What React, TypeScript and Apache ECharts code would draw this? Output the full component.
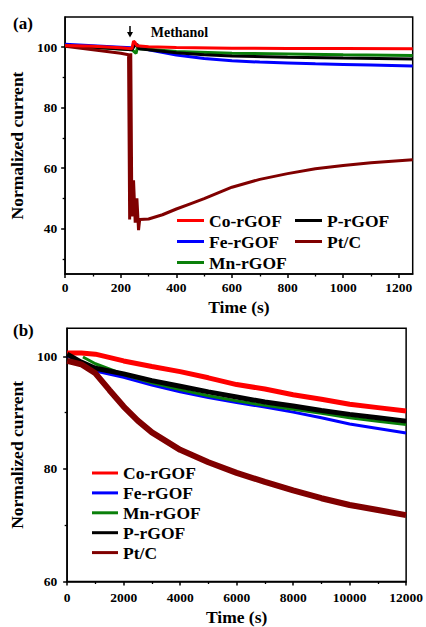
import React, { useEffect, useRef } from "react";
import * as echarts from "echarts";

const FONT = "Liberation Serif";

const seriesNames = ["Co-rGOF", "Fe-rGOF", "Mn-rGOF", "P-rGOF", "Pt/C"];
const seriesColors = ["#ff0000", "#0000ff", "#0a800a", "#000000", "#800000"];

// Panel (a): methanol tolerance, Time (s) vs normalized current
const aCo: [number, number][] = [[0,100.6],[100,100.3],[200,99.8],[240,99.5],[246,102],[252,101.5],[258,100.5],[300,100.2],[400,99.9],[600,99.7],[800,99.6],[1000,99.6],[1250,99.5]];
const aFe: [number, number][] = [[0,101],[100,100.5],[200,100],[240,99.8],[255,101],[262,100],[300,99.2],[400,97.4],[500,96.3],[600,95.5],[700,95.1],[800,94.8],[900,94.5],[1000,94.3],[1100,94.1],[1250,93.8]];
const aMn: [number, number][] = [[0,100.4],[100,100],[200,99.4],[240,99.2],[255,98],[262,100.6],[268,99.5],[300,99.3],[400,98.6],[600,98],[800,97.8],[1000,97.5],[1250,97.3]];
const aP: [number, number][] = [[0,100.5],[100,100],[200,99.4],[240,99.2],[250,100.5],[258,101],[265,99.5],[300,99.2],[400,98.2],[500,97.5],[600,97.1],[800,96.7],[1000,96.4],[1250,96.1]];
const aPt: [number, number][] = [[0,100.3],[100,99.2],[200,98],[228,97.5],[232,43],[236,98],[240,44],[246,56],[252,42],[258,50],[264,39.5],[268,43],[300,43.2],[350,44.6],[400,46.5],[450,48.2],[500,49.9],[550,51.8],[600,53.7],[700,56.3],[800,58.2],[900,59.8],[1000,60.9],[1100,61.8],[1250,62.8]];

// Panel (b): long-term stability
const bCo: [number, number][] = [[0,100.6],[500,100.6],[1000,100.4],[2000,99.2],[3000,98.2],[4000,97.3],[5000,96.2],[6000,95],[7000,94.2],[8000,93.2],[9000,92.4],[10000,91.5],[11000,90.9],[12000,90.3]];
const bFe: [number, number][] = [[0,100.2],[500,98.6],[1000,97.4],[2000,96.3],[3000,94.9],[4000,93.7],[5000,92.7],[6000,91.8],[7000,91],[8000,90.1],[9000,89.1],[10000,88],[11000,87.2],[12000,86.4]];
const bMn: [number, number][] = [[560,99.9],[1000,98.7],[2000,96.8],[3000,95.3],[4000,94.1],[5000,93],[6000,92.1],[7000,91.3],[8000,90.6],[9000,89.9],[10000,89.1],[11000,88.5],[12000,87.9]];
const bP: [number, number][] = [[0,100.4],[500,99],[1000,97.9],[2000,96.9],[3000,95.7],[4000,94.7],[5000,93.7],[6000,92.8],[7000,91.9],[8000,91.2],[9000,90.4],[10000,89.7],[11000,89.1],[12000,88.5]];
const bPt: [number, number][] = [[0,99.2],[500,98.6],[1000,97],[1500,94],[2000,91.1],[2500,88.6],[3000,86.5],[4000,83.4],[5000,81.2],[6000,79.3],[7000,77.7],[8000,76.2],[9000,74.8],[10000,73.6],[11000,72.7],[12000,71.8]];

// Tick labels
const aXLabels = [0, 200, 400, 600, 800, 1000, 1200];
const aXMinor = [100, 300, 500, 700, 900, 1100];
const aYLabels = [40, 60, 80, 100];
const aYMinor = [30, 50, 70, 90];
const bXLabels = [0, 2000, 4000, 6000, 8000, 10000, 12000];
const bXMinor = [1000, 3000, 5000, 7000, 9000, 11000];
const bYLabels = [60, 80, 100];
const bYMinor = [70, 90];

const labelFont = { fontFamily: FONT, fontWeight: "bold" as const, fontSize: 13.5, color: "#000" };
const nameFont = { fontFamily: FONT, fontWeight: "bold" as const, fontSize: 17.5, color: "#000" };

function mainAxis(grid: number, pos: string, min: number, max: number, labels: number[], name: string, nameGap: number, margin: number) {
  return {
    type: "value",
    gridIndex: grid,
    position: pos,
    min,
    max,
    name,
    nameLocation: "middle",
    nameGap,
    nameTextStyle: nameFont,
    axisLine: { show: true, onZero: false, lineStyle: { color: "#000", width: 1.5 } },
    axisTick: { show: true, inside: false, length: 4, customValues: labels, lineStyle: { color: "#000", width: 1.5 } },
    axisLabel: { show: true, margin, customValues: labels, formatter: (v: number) => String(v), ...labelFont },
    splitLine: { show: false },
  };
}

function minorAxis(grid: number, pos: string, min: number, max: number, ticks: number[]) {
  return {
    type: "value",
    gridIndex: grid,
    position: pos,
    offset: 0,
    min,
    max,
    axisLine: { show: false, onZero: false },
    axisTick: { show: true, inside: false, length: 2.5, customValues: ticks, lineStyle: { color: "#000", width: 1.3 } },
    axisLabel: { show: false },
    splitLine: { show: false },
  };
}

const aData = [aCo, aFe, aMn, aP, aPt];
const bData = [bCo, bFe, bMn, bP, bPt];
const aWidths = [3, 3, 3, 3, 3];
const bWidths = [5, 3, 3, 5, 6];

export default function App() {
  const ref = useRef<HTMLDivElement>(null);
  useEffect(() => {
    if (!ref.current) return;
    const chart = echarts.init(ref.current, null, { renderer: "svg" });
    const series: any[] = [];
    aData.forEach((d, i) => {
      series.push({
        name: seriesNames[i], type: "line", xAxisIndex: 0, yAxisIndex: 0, data: d,
        showSymbol: false, symbol: "none", color: seriesColors[i],
        lineStyle: { color: seriesColors[i], width: aWidths[i] }, itemStyle: { color: seriesColors[i] },
        z: i === 0 ? 6 : 5,
      });
    });
    bData.forEach((d, i) => {
      series.push({
        name: seriesNames[i], type: "line", xAxisIndex: 2, yAxisIndex: 2, data: d,
        showSymbol: false, symbol: "none", color: seriesColors[i],
        lineStyle: { color: seriesColors[i], width: bWidths[i] }, itemStyle: { color: seriesColors[i] },
      });
    });
    const legendText = { fontFamily: FONT, fontWeight: "bold", fontSize: 17.5, color: "#000", lineHeight: 17 };
    const legendBase = { orient: "vertical", icon: "rect", itemWidth: 27, itemHeight: 3, padding: 0, textStyle: legendText, selectedMode: false };
    chart.setOption({
      animation: false,
      backgroundColor: "#fff",
      grid: [
        { left: 58, right: 13.3, top: 17, bottom: 353, show: true, borderColor: "#000", borderWidth: 1.5, backgroundColor: "transparent" },
        { left: 60.3, right: 14, top: 328.3, bottom: 43, show: true, borderColor: "#000", borderWidth: 1.5, backgroundColor: "transparent" },
      ],
      xAxis: [
        mainAxis(0, "bottom", 0, 1250, aXLabels, "Time (s)", 23.5, 6),
        minorAxis(0, "bottom", 0, 1250, aXMinor),
        mainAxis(1, "bottom", 0, 12000, bXLabels, "Time (s)", 26.5, 8.5),
        minorAxis(1, "bottom", 0, 12000, bXMinor),
      ],
      yAxis: [
        mainAxis(0, "left", 25, 110, aYLabels, "Normalized current", 28, 8),
        minorAxis(0, "left", 25, 110, aYMinor),
        mainAxis(1, "left", 60, 105, bYLabels, "Normalized current", 30.3, 10),
        minorAxis(1, "left", 60, 105, bYMinor),
      ],
      legend: [
        { ...legendBase, left: 177, top: 211.5, itemGap: 3, data: ["Co-rGOF", "Fe-rGOF", "Mn-rGOF"] },
        { ...legendBase, left: 295, top: 211.5, itemGap: 3, data: ["P-rGOF", "Pt/C"] },
        { ...legendBase, left: 92, top: 464, itemGap: 1.9, itemWidth: 26, data: seriesNames },
      ],
      graphic: [
        { type: "text", left: 13, top: 15, style: { text: "(a)", fontFamily: FONT, fontWeight: "bold", fontSize: 17, fill: "#000" } },
        { type: "text", left: 13, top: 321.5, style: { text: "(b)", fontFamily: FONT, fontWeight: "bold", fontSize: 17, fill: "#000" } },
        { type: "text", x: 150.7, y: 32, style: { text: "Methanol", fontFamily: FONT, fontWeight: "bold", fontSize: 14, fill: "#000", align: "left", verticalAlign: "middle" } },
        { type: "line", shape: { x1: 130, y1: 26, x2: 130, y2: 33 }, style: { stroke: "#000", lineWidth: 1.5 } },
        { type: "polygon", shape: { points: [[127, 32], [133, 32], [130, 37.5]] }, style: { fill: "#000" } },
      ],
      series,
    });
    return () => chart.dispose();
  }, []);
  return <div ref={ref} style={{ position: "absolute", left: 0, top: 0, width: 426, height: 627 }} />;
}
